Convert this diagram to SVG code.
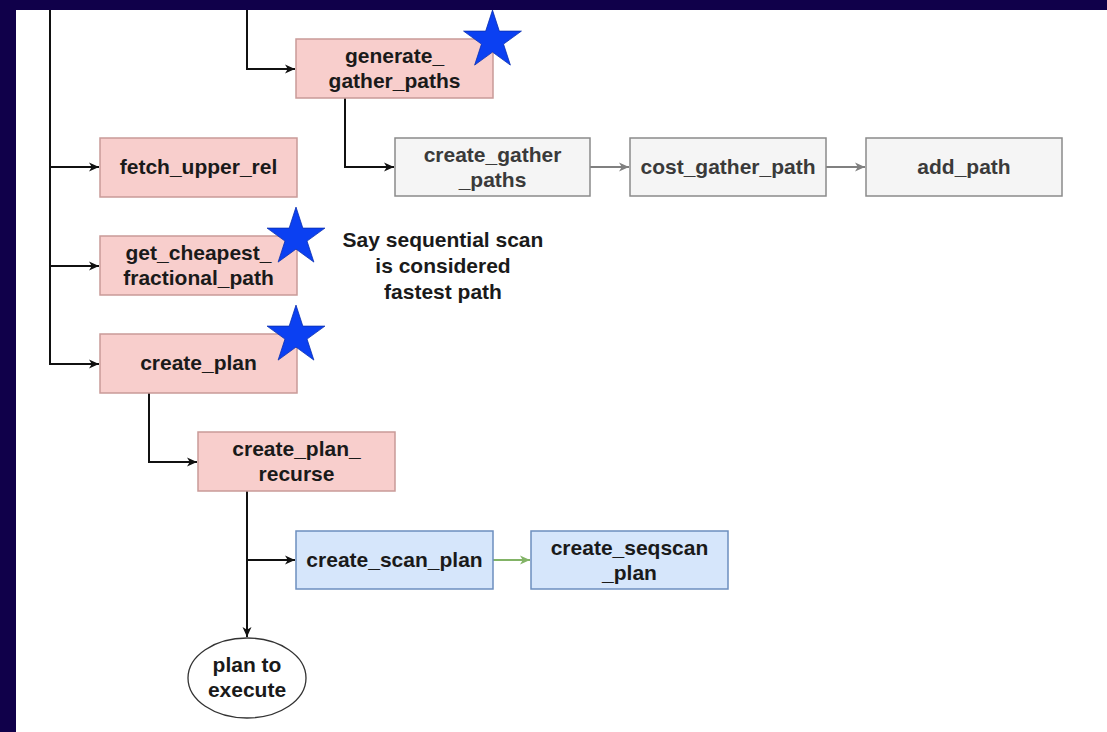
<svg xmlns="http://www.w3.org/2000/svg" width="1107" height="732" viewBox="0 0 1107 732">
<style>
text{font-family:"Liberation Sans",Arial,sans-serif;font-size:21px;font-weight:bold;fill:#1a1a1a;text-anchor:middle}
text.g{fill:#3a3a3a}
.red{fill:#f8cecc;stroke:#c99a98;stroke-width:1.5}
.gray{fill:#f5f5f5;stroke:#8a8a8a;stroke-width:1.5}
.blue{fill:#d6e6fb;stroke:#6c8ebf;stroke-width:1.5}
.c{fill:none;stroke:#111;stroke-width:2}
.cg{fill:none;stroke:#808080;stroke-width:2}
.cgr{fill:none;stroke:#82b366;stroke-width:2}
.star{fill:#0b40f2;stroke:#0a2fb0;stroke-width:0.8}
</style>
<defs>
<marker id="a" markerWidth="12" markerHeight="12" refX="10" refY="6" orient="auto" markerUnits="userSpaceOnUse"><path d="M0,1.5 L10,6 L0,10.5 L2.8,6 Z" fill="#111"/></marker>
<marker id="ag" markerWidth="12" markerHeight="12" refX="10" refY="6" orient="auto" markerUnits="userSpaceOnUse"><path d="M0,1.5 L10,6 L0,10.5 L2.8,6 Z" fill="#808080"/></marker>
<marker id="agr" markerWidth="12" markerHeight="12" refX="10" refY="6" orient="auto" markerUnits="userSpaceOnUse"><path d="M0,1.5 L10,6 L0,10.5 L2.8,6 Z" fill="#82b366"/></marker>
<polygon id="st" points="0,-30.4 6.82,-9.38 28.91,-9.39 11.03,3.58 17.87,24.59 0,11.6 -17.87,24.59 -11.03,3.58 -28.91,-9.39 -6.82,-9.38"/>
</defs>
<rect x="0" y="0" width="1107" height="732" fill="#ffffff"/>
<g id="connectors">
<path class="c" d="M50,10 V364 H99" marker-end="url(#a)"/>
<path class="c" d="M50,167 H99" marker-end="url(#a)"/>
<path class="c" d="M50,266 H99" marker-end="url(#a)"/>
<path class="c" d="M247,10 V69 H295" marker-end="url(#a)"/>
<path class="c" d="M345,98 V167 H394" marker-end="url(#a)"/>
<path class="cg" d="M590,167 H629" marker-end="url(#ag)"/>
<path class="cg" d="M826,167 H865" marker-end="url(#ag)"/>
<path class="c" d="M149,393 V462 H197" marker-end="url(#a)"/>
<path class="c" d="M247,491 V637" marker-end="url(#a)"/>
<path class="c" d="M247,560 H295" marker-end="url(#a)"/>
<path class="cgr" d="M493,560 H530" marker-end="url(#agr)"/>
</g>
<g id="generate_gather_paths"><rect class="red" x="296" y="39" width="197" height="59"/><text x="394.5" y="63">generate_</text><text x="394.5" y="88">gather_paths</text></g>
<g id="fetch_upper_rel"><rect class="red" x="100" y="138" width="197" height="59"/><text x="198.5" y="174">fetch_upper_rel</text></g>
<g id="get_cheapest_fractional_path"><rect class="red" x="100" y="236" width="197" height="59"/><text x="198.5" y="260">get_cheapest_</text><text x="198.5" y="285">fractional_path</text></g>
<g id="create_plan"><rect class="red" x="100" y="334" width="197" height="59"/><text x="198.5" y="370">create_plan</text></g>
<g id="create_plan_recurse"><rect class="red" x="198" y="432" width="197" height="59"/><text x="296.5" y="456">create_plan_</text><text x="296.5" y="481">recurse</text></g>
<g id="create_gather_paths"><rect class="gray" x="395" y="138" width="195" height="58"/><text class="g" x="492.5" y="162">create_gather</text><text class="g" x="492.5" y="187">_paths</text></g>
<g id="cost_gather_path"><rect class="gray" x="630" y="138" width="196" height="58"/><text class="g" x="728" y="174">cost_gather_path</text></g>
<g id="add_path"><rect class="gray" x="866" y="138" width="196" height="58"/><text class="g" x="964" y="174">add_path</text></g>
<g id="create_scan_plan"><rect class="blue" x="296" y="531" width="197" height="58"/><text x="394.5" y="567">create_scan_plan</text></g>
<g id="create_seqscan_plan"><rect class="blue" x="531" y="531" width="197" height="58"/><text x="629.5" y="555">create_seqscan</text><text x="629.5" y="580">_plan</text></g>
<g id="plan_to_execute"><ellipse cx="247" cy="678" rx="59" ry="40" fill="#ffffff" stroke="#333" stroke-width="1.3"/><text x="247" y="672">plan to</text><text x="247" y="697">execute</text></g>
<g id="note"><text x="443" y="247">Say sequential scan</text><text x="443" y="273">is considered</text><text x="443" y="299">fastest path</text></g>
<g id="stars">
<use href="#st" class="star" transform="translate(492.5,40.5)"/>
<use href="#st" class="star" transform="translate(296,237.5)"/>
<use href="#st" class="star" transform="translate(296,335.5)"/>
</g>
<g id="frame" fill="#10004a"><rect x="0" y="0" width="1107" height="10"/><rect x="0" y="0" width="16" height="732"/></g>
</svg>
